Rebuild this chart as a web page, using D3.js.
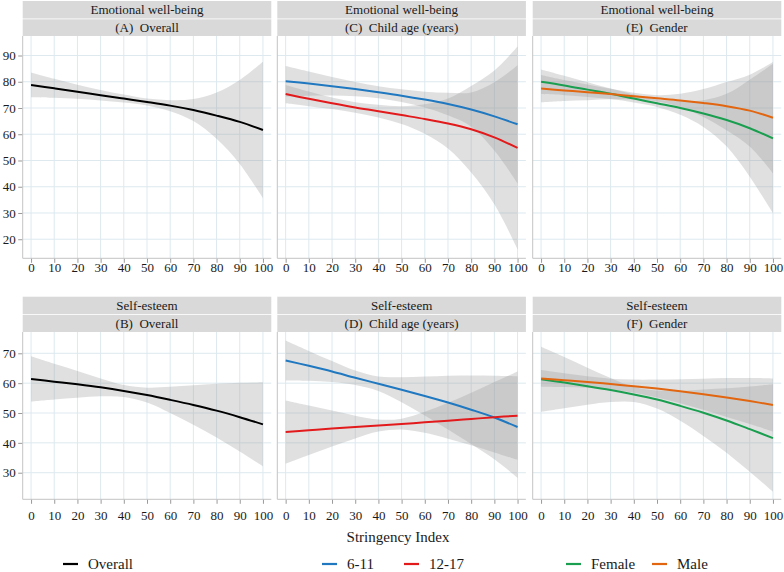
<!DOCTYPE html>
<html><head><meta charset="utf-8">
<script src="https://cdn.jsdelivr.net/npm/d3@7"></script>
<style>
body{margin:0;background:#fff;}
</style>
</head><body>
<svg id="fig" width="784" height="572" font-family="Liberation Serif"></svg>
<script>
// ---------- data ----------
const stringency = [0,10,20,30,40,50,60,70,80,90,100];
const xTicks = [0,10,20,30,40,50,60,70,80,90,100];
const ewbTicks = [20,30,40,50,60,70,80,90];
const seTicks = [30,40,50,60,70];

// Emotional well-being
const ewbOverall     = [78.8,77.5,76.2,74.9,73.6,72.3,70.9,69.2,67.1,64.7,61.6];
const ewbOverallCI   = [4.7,3.6,2.7,2.0,1.5,1.3,2.1,4.2,8.8,16.0,26.0];
const ewbAge611      = [80.2,79.3,78.3,77.2,76.0,74.7,73.2,71.5,69.4,66.8,63.8];
const ewbAge611CI    = [5.8,4.6,3.5,2.7,2.3,2.4,3.0,4.3,6.5,13.0,22.5];
const ewbAge1217     = [75.3,73.5,71.8,70.2,68.8,67.3,65.8,64.1,61.9,58.8,54.8];
const ewbAge1217CI   = [3.5,2.8,2.2,2.0,2.4,3.4,5.6,9.5,16.5,25.5,38.6];
const ewbFemale      = [80.0,78.6,77.0,75.4,73.6,71.8,70.0,67.9,65.4,62.3,58.4];
const ewbFemaleCI    = [4.7,3.7,2.8,2.0,1.5,1.4,2.6,5.1,10.0,18.5,28.5];
const ewbMale        = [77.4,76.7,76.0,75.3,74.5,73.7,72.9,71.9,70.7,69.0,66.3];
const ewbMaleCI      = [5.2,4.0,3.0,2.0,1.3,1.2,2.5,5.3,9.2,13.7,21.2];

// Self-esteem
const seOverall      = [61.4,60.5,59.6,58.6,57.4,56.0,54.4,52.7,50.8,48.6,46.2];
const seOverallCI    = [7.6,6.0,4.5,3.0,2.0,2.5,4.4,6.6,9.0,11.5,14.1];
const seAge611       = [67.6,65.8,63.9,61.8,59.8,57.8,55.7,53.5,51.1,48.5,45.3];
const seAge611CI     = [6.7,5.0,3.5,2.4,2.4,4.2,6.5,9.0,11.5,14.0,17.0];
const seAge1217      = [43.6,44.2,44.8,45.3,45.8,46.3,46.9,47.4,48.0,48.6,49.1];
const seAge1217CI    = [10.6,8.3,6.0,3.8,2.0,1.8,3.5,6.0,8.8,11.8,14.8];
const seFemale       = [61.3,60.2,59.0,57.7,56.2,54.5,52.4,50.1,47.5,44.6,41.6];
const seFemaleCI     = [10.9,8.6,6.2,4.0,2.5,3.0,5.0,7.8,10.8,14.3,18.0];
const seMale         = [61.6,61.0,60.4,59.7,59.0,58.2,57.3,56.3,55.2,54.0,52.7];
const seMaleCI       = [2.8,2.3,1.9,1.8,2.2,3.0,4.0,5.2,6.5,7.7,8.9];

const outcomes = ["Emotional well-being","Self-esteem"];
const panelLabels = [["(A)  Overall","(C)  Child age (years)","(E)  Gender"],
                     ["(B)  Overall","(D)  Child age (years)","(F)  Gender"]];
const legendGroups = [["Overall"],["6-11","12-17"],["Female","Male"]];
const colors = {"Overall":"#000000","6-11":"#1f78c0","12-17":"#e31a1c","Female":"#1a9e4f","Male":"#e2650f"};

// ---------- layout ----------
const FONT = '"Liberation Serif", "Times New Roman", Tinos, "Nimbus Roman", serif';
function serif(sel){ return sel.attr("font-family", "Liberation Serif").style("font-family", FONT, "important"); }
const svg = d3.select("#fig");
const colX = [22.7, 277.3, 532.7];
const panelW = 248.6;
const rows = [
  {stripTop:1, panelTop:36, panelBottom:258.3, domain:[12.74,97.43], ticks:ewbTicks, labelBase:272},
  {stripTop:296.7, panelTop:332, panelBottom:499.3, domain:[21.09,77.14], ticks:seTicks, labelBase:520}
];
const series = [
  [ [["Overall",ewbOverall,ewbOverallCI]],
    [["6-11",ewbAge611,ewbAge611CI],["12-17",ewbAge1217,ewbAge1217CI]],
    [["Female",ewbFemale,ewbFemaleCI],["Male",ewbMale,ewbMaleCI]] ],
  [ [["Overall",seOverall,seOverallCI]],
    [["6-11",seAge611,seAge611CI],["12-17",seAge1217,seAge1217CI]],
    [["Female",seFemale,seFemaleCI],["Male",seMale,seMaleCI]] ]
];

const defs = svg.append("defs");

rows.forEach((row, r) => {
  const y = d3.scaleLinear().domain(row.domain).range([row.panelBottom, row.panelTop]);
  colX.forEach((x0, c) => {
    const x = d3.scaleLinear().domain([-3.6,103.6]).range([x0, x0 + panelW]);
    const g = svg.append("g");
    const clipId = `clip${r}${c}`;
    defs.append("clipPath").attr("id", clipId).append("rect")
      .attr("x", x0).attr("y", row.panelTop).attr("width", panelW).attr("height", row.panelBottom - row.panelTop);

    // strips
    const sh = 17.5;
    g.append("rect").attr("x", x0).attr("y", row.stripTop).attr("width", panelW).attr("height", sh).attr("fill", "#d9d9d9");
    g.append("rect").attr("x", x0).attr("y", row.stripTop + sh + 0.8).attr("width", panelW).attr("height", row.panelTop - row.stripTop - sh - 0.8).attr("fill", "#d9d9d9");
    serif(g.append("text").attr("x", x0 + panelW/2).attr("y", row.stripTop + 13).attr("text-anchor","middle")
      .attr("font-size", 13).attr("fill","#1a1a1a")).text(outcomes[r]);
    serif(g.append("text").attr("x", x0 + panelW/2).attr("y", row.stripTop + sh + 13.3).attr("text-anchor","middle")
      .attr("font-size", 13).attr("fill","#1a1a1a").style("white-space","pre")).text(panelLabels[r][c]);

    // grid
    const grid = g.append("g").attr("stroke", "#dde9ef").attr("stroke-width", 1);
    xTicks.forEach(t => grid.append("line").attr("x1", x(t)).attr("x2", x(t)).attr("y1", row.panelTop).attr("y2", row.panelBottom));
    row.ticks.forEach(t => grid.append("line").attr("x1", x0).attr("x2", x0 + panelW).attr("y1", y(t)).attr("y2", y(t)));

    // bands and lines
    const pg = g.append("g").attr("clip-path", `url(#${clipId})`);
    const area = d3.area().x((d,i) => x(stringency[i])).y0(d => y(d[0])).y1(d => y(d[1])).curve(d3.curveCatmullRom.alpha(0.5));
    const line = d3.line().x((d,i) => x(stringency[i])).y(d => y(d)).curve(d3.curveCatmullRom.alpha(0.5));
    series[r][c].forEach(([name, vals, ci]) => {
      pg.append("path").datum(vals.map((v,i) => [v - ci[i], v + ci[i]]))
        .attr("d", area).attr("fill", "#999999").attr("fill-opacity", 0.3);
    });
    series[r][c].forEach(([name, vals]) => {
      pg.append("path").datum(vals).attr("d", line).attr("fill","none")
        .attr("stroke", colors[name]).attr("stroke-width", 2);
    });

    // x axis
    const ax = g.append("g").attr("transform", `translate(0,${row.panelBottom})`)
      .call(d3.axisBottom(x).tickValues(xTicks).tickSize(4.5).tickPadding(0).tickSizeOuter(0));
    ax.attr("font-family", "Liberation Serif").attr("font-size", null);
    ax.select(".domain").remove();
    ax.selectAll(".tick line").attr("stroke", "#9a9a9a");
    serif(ax.selectAll(".tick text").attr("font-size", 13).attr("fill","#1a1a1a").attr("dy", null)
      .attr("y", row.labelBase - row.panelBottom));
    g.append("line").attr("x1", x0).attr("x2", x0 + panelW).attr("y1", row.panelBottom).attr("y2", row.panelBottom)
      .attr("stroke", "#c4c4c4");

    // y axis (labels only on first column)
    if (c === 0) {
      const ay = g.append("g").attr("transform", `translate(${x0},0)`)
        .call(d3.axisLeft(y).tickValues(row.ticks).tickSize(4.5).tickPadding(2.5).tickSizeOuter(0));
      ay.attr("font-family", "Liberation Serif").attr("font-size", null);
      ay.select(".domain").remove();
      ay.selectAll(".tick line").attr("stroke", "#9a9a9a");
      serif(ay.selectAll(".tick text").attr("font-size", 13).attr("fill","#1a1a1a"));
    }
    g.append("line").attr("x1", x0).attr("x2", x0).attr("y1", row.panelTop).attr("y2", row.panelBottom)
      .attr("stroke", "#c4c4c4");
  });
});

// axis title
serif(svg.append("text").attr("x", 398).attr("y", 542).attr("text-anchor","middle").attr("font-size", 15)
  .attr("fill","#1a1a1a")).text("Stringency Index");

// legends
const legendX = [[63],[322,404],[566,652]];
legendGroups.forEach((grp, gi) => {
  grp.forEach((name, k) => {
    const lx = legendX[gi][k];
    svg.append("line").attr("x1", lx).attr("x2", lx + 15).attr("y1", 564).attr("y2", 564)
      .attr("stroke", colors[name]).attr("stroke-width", 2.2);
    serif(svg.append("text").attr("x", lx + 25).attr("y", 569).attr("font-size", 15)
      .attr("fill","#1a1a1a")).text(name);
  });
});

// re-apply font once fonts are ready (harmless if already applied)
if (document.fonts && document.fonts.ready) {
  document.fonts.ready.then(() => serif(svg.selectAll("text")));
}
</script>
</body></html>
